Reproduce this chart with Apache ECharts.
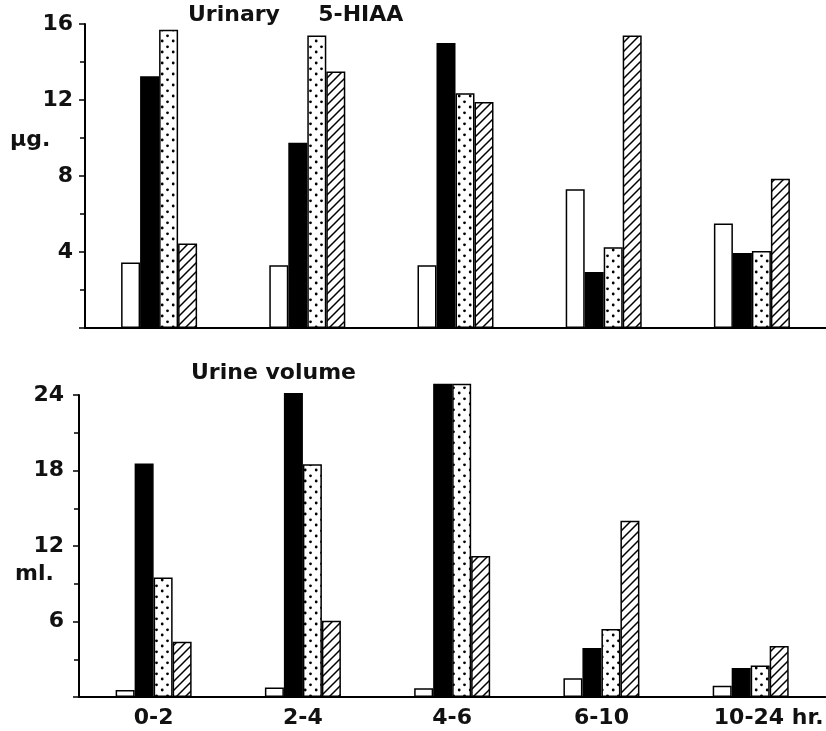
<!DOCTYPE html>
<html>
<head>
<meta charset="utf-8">
<script src="https://cdn.jsdelivr.net/npm/echarts@6/dist/echarts.min.js"></script>
<style>
html,body{margin:0;padding:0;background:#fff;}
#chart{width:826px;height:731px;}
</style>
</head>
<body>
<div id="chart"></div>
<script>
// ---- data ----
const categories = ['0-2', '2-4', '4-6', '6-10', '10-24'];
const xTickLabels = ['0-2', '2-4', '4-6', '6-10', '10-24 hr.'];
const seriesNames = ['open', 'solid', 'dotted', 'hatched'];

// Urinary 5-HIAA (µg.)
const hiaaOpen    = [3.45, 3.3, 3.3, 7.3, 5.5];
const hiaaSolid   = [13.25, 9.75, 15.0, 2.95, 3.95];
const hiaaDotted  = [15.7, 15.4, 12.35, 4.25, 4.05];
const hiaaHatched = [4.45, 13.5, 11.9, 15.4, 7.85];

// Urine volume (ml.)
const volOpen    = [0.55, 0.75, 0.7, 1.5, 0.9];
const volSolid   = [18.55, 24.15, 24.9, 3.9, 2.3];
const volDotted  = [9.5, 18.5, 24.9, 5.4, 2.5];
const volHatched = [4.4, 6.05, 11.2, 14.0, 4.05];

const hiaaTicks = [4, 8, 12, 16];
const volTicks = [6, 12, 18, 24];

// ---- patterns ----
function dotPattern() {
  const s = 11;
  const c = document.createElement('canvas');
  c.width = s; c.height = s;
  const g = c.getContext('2d');
  g.fillStyle = '#fff'; g.fillRect(0, 0, s, s);
  g.fillStyle = '#000';
  g.beginPath(); g.arc(2.5, 2.8, 1.4, 0, Math.PI * 2); g.fill();
  g.beginPath(); g.arc(8.2, 8.0, 1.4, 0, Math.PI * 2); g.fill();
  return c;
}
function hatchPattern() {
  const s = 9;
  const c = document.createElement('canvas');
  c.width = s; c.height = s;
  const g = c.getContext('2d');
  g.fillStyle = '#fff'; g.fillRect(0, 0, s, s);
  g.strokeStyle = '#000'; g.lineWidth = 1.5;
  g.beginPath();
  g.moveTo(0, s); g.lineTo(s, 0);
  g.moveTo(-2, 2); g.lineTo(2, -2);
  g.moveTo(s - 2, s + 2); g.lineTo(s + 2, s - 2);
  g.stroke();
  return c;
}
const fills = [
  '#ffffff',
  '#000000',
  { image: dotPattern(), repeat: 'repeat' },
  { image: hatchPattern(), repeat: 'repeat' }
];

const FONT = 'DejaVu Sans';
const txt = { fontFamily: FONT, fontSize: 22, fontWeight: 'bold', color: '#111' };

function makeSeries(values, idx, axisIdx) {
  return {
    name: seriesNames[idx],
    type: 'bar',
    xAxisIndex: axisIdx,
    yAxisIndex: axisIdx,
    data: values,
    barWidth: 19,
    barGap: '0%',
    clip: false,
    itemStyle: { color: fills[idx], borderColor: '#000', borderWidth: 1.5 },
    emphasis: { disabled: true }
  };
}

function yAxisDef(gridIndex, max, interval, ticks, margin) {
  return {
    type: 'value', gridIndex: gridIndex, min: 0, max: max, interval: interval,
    axisLine: { show: true, lineStyle: { color: '#000', width: 2 } },
    axisTick: { show: true, length: 6, lineStyle: { color: '#000', width: 1.5 } },
    minorTick: { show: true, splitNumber: 2, length: 5, lineStyle: { color: '#000', width: 1.5 } },
    splitLine: { show: false },
    axisLabel: Object.assign({ margin: margin, formatter: v => ticks.indexOf(v) >= 0 ? String(v) : '' }, txt)
  };
}

const option = {
  animation: false,
  backgroundColor: '#fff',
  title: [
    { text: 'Urinary     5-HIAA', left: 188, top: 4, padding: 0, textStyle: txt },
    { text: 'Urine volume', left: 191, top: 362, padding: 0, textStyle: txt },
    { text: 'μg.', left: 10, top: 129, padding: 0, textStyle: txt },
    { text: 'ml.', left: 15, top: 563, padding: 0, textStyle: txt }
  ],
  grid: [
    { left: 85, width: 752, top: 24, height: 304 },
    { left: 79, width: 752, top: 395, height: 302 }
  ],
  xAxis: [
    {
      type: 'category', gridIndex: 0, data: categories,
      axisLine: { show: true, lineStyle: { color: '#000', width: 2 } },
      axisTick: { show: false }, axisLabel: { show: false }
    },
    {
      type: 'category', gridIndex: 1, data: categories,
      axisLine: { show: true, lineStyle: { color: '#000', width: 2 } },
      axisTick: { show: false },
      axisLabel: Object.assign({
        interval: 0, margin: 10,
        formatter: (v, i) => i === categories.length - 1 ? '{p|}' + xTickLabels[i] : xTickLabels[i],
        rich: { p: { width: 36 } }
      }, txt)
    }
  ],
  yAxis: [
    yAxisDef(0, 16, 4, hiaaTicks, 12),
    yAxisDef(1, 24, 6, volTicks, 15)
  ],
  series: [
    makeSeries(hiaaOpen, 0, 0),
    makeSeries(hiaaSolid, 1, 0),
    makeSeries(hiaaDotted, 2, 0),
    makeSeries(hiaaHatched, 3, 0),
    makeSeries(volOpen, 0, 1),
    makeSeries(volSolid, 1, 1),
    makeSeries(volDotted, 2, 1),
    makeSeries(volHatched, 3, 1)
  ]
};

const chart = echarts.init(document.getElementById('chart'), null, { renderer: 'canvas' });
chart.setOption(option);
</script>
</body>
</html>
